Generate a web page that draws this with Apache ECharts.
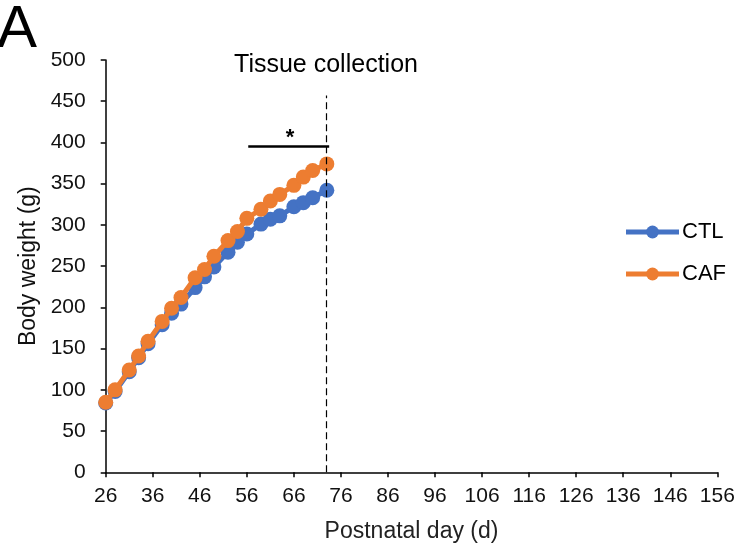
<!DOCTYPE html>
<html>
<head>
<meta charset="utf-8">
<script src="https://cdn.jsdelivr.net/npm/echarts@6/dist/echarts.min.js"></script>
<style>
  html, body { margin: 0; padding: 0; background: #fff; }
  #chart { width: 743px; height: 550px; }
</style>
</head>
<body>
<div id="chart"></div>
<script>
// Postnatal days at which body weight was measured
const days = [26, 28, 31, 33, 35, 38, 40, 42, 45, 47, 49, 52, 54, 56, 59, 61, 63, 66, 68, 70, 73];
// Mean body weight (g), control diet
const ctlWeight = [84, 98, 122, 139, 156, 179, 193, 204, 224, 237, 249, 267, 279, 289, 301, 307, 311, 322, 327, 333, 342];
// Mean body weight (g), cafeteria diet
const cafWeight = [85, 100, 124, 141, 159, 183, 199, 212, 236, 246, 262, 281, 292, 308, 319, 329, 337, 348, 358, 366, 374];

// Tissue collection day marker and significance bar
const collectionDay = 72.8;
const collectionTop = 457;
const sigStart = 56.3, sigEnd = 73.5, sigLevel = 395;
const sigStarPos = [65.2, 406];

const font = 'Liberation Sans, Arial, sans-serif';
const chart = echarts.init(document.getElementById('chart'));

chart.setOption({
  animation: false,
  backgroundColor: '#fff',
  grid: { left: 105.7, right: 25.7, top: 60, bottom: 77.7, containLabel: false },
  graphic: [
    { type: 'text', left: -3, top: 0, style: { text: 'A', font: '60px ' + font, fill: '#000' } },
    { type: 'text', x: 326, y: 65, style: { text: 'Tissue collection', font: '25px ' + font, fill: '#000', textAlign: 'center', textVerticalAlign: 'middle' } }
  ],
  legend: {
    orient: 'vertical',
    right: 12,
    top: 216,
    itemWidth: 53,
    itemHeight: 16,
    itemGap: 20,
    lineStyle: { width: 5 },
    textStyle: { fontFamily: font, fontSize: 22, color: '#000', padding: [0, 0, 0, -2] },
    data: ['CTL', 'CAF']
  },
  xAxis: {
    type: 'value',
    min: 26, max: 156, interval: 10,
    name: 'Postnatal day (d)',
    nameLocation: 'middle',
    nameGap: 48,
    nameTextStyle: { fontFamily: font, fontSize: 23, color: '#222' },
    axisLine: { lineStyle: { color: '#000', width: 1.5 } },
    axisTick: { show: true, length: 5, lineStyle: { color: '#000', width: 1.5 } },
    axisLabel: { fontFamily: font, fontSize: 21, color: '#111', margin: 13 },
    splitLine: { show: false }
  },
  yAxis: {
    type: 'value',
    min: 0, max: 500, interval: 50,
    name: 'Body weight (g)',
    nameLocation: 'middle',
    nameGap: 62,
    nameTextStyle: { fontFamily: font, fontSize: 23, color: '#111' },
    axisLine: { show: true, lineStyle: { color: '#000', width: 1.5 } },
    axisTick: { show: true, length: 5, lineStyle: { color: '#000', width: 1.5 } },
    axisLabel: { fontFamily: font, fontSize: 21, color: '#111', margin: 20 },
    splitLine: { show: false }
  },
  series: [
    {
      name: 'CTL',
      type: 'line',
      data: days.map((d, i) => [d, ctlWeight[i]]),
      symbol: 'circle',
      symbolSize: 15,
      color: '#4472C4',
      lineStyle: { width: 5, color: '#4472C4' },
      itemStyle: { color: '#4472C4' },
      z: 2
    },
    {
      name: 'CAF',
      type: 'line',
      data: days.map((d, i) => [d, cafWeight[i]]),
      symbol: 'circle',
      symbolSize: 15,
      color: '#ED7D31',
      lineStyle: { width: 5, color: '#ED7D31' },
      itemStyle: { color: '#ED7D31' },
      z: 3,
      markLine: {
        silent: true,
        symbol: 'none',
        label: { show: false },
        data: [
          [
            { coord: [collectionDay, 0], lineStyle: { type: [7, 4], color: '#000', width: 1.2 } },
            { coord: [collectionDay, collectionTop] }
          ],
          [
            { coord: [sigStart, sigLevel], lineStyle: { type: 'solid', color: '#000', width: 2.5 } },
            { coord: [sigEnd, sigLevel] }
          ]
        ]
      },
      markPoint: {
        silent: true,
        symbol: 'circle',
        symbolSize: 0,
        label: { show: true, formatter: '*', fontFamily: font, fontSize: 22, fontWeight: 'bold', color: '#000' },
        data: [{ coord: sigStarPos }]
      }
    }
  ]
});
</script>
</body>
</html>
